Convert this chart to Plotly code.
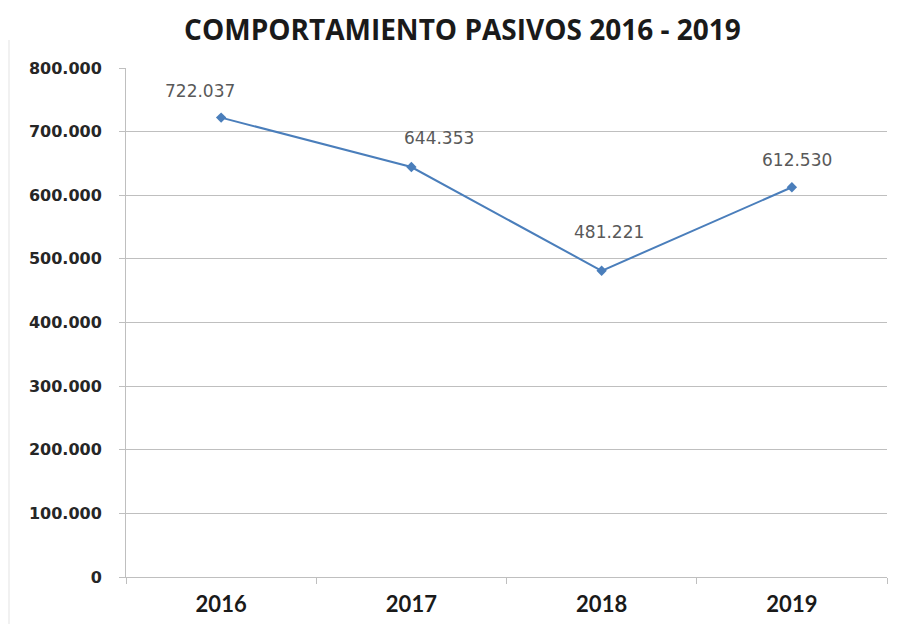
import plotly.graph_objects as go

# Pasivos por año
years = ["2016", "2017", "2018", "2019"]
pasivos = [722037, 644353, 481221, 612530]

# Desplazamiento (px) de cada etiqueta de dato respecto a su punto
label_dx = [-21, 28, 7, 5]
label_dy = [27, 29, 39, 27]

y_ticks = list(range(0, 800001, 100000))

line_color = "#4A7EBB"
grid_color = "#BFBFBF"

fig = go.Figure()
fig.add_trace(go.Scatter(
    x=years,
    y=pasivos,
    mode="lines+markers",
    line=dict(color=line_color, width=2),
    marker=dict(symbol="diamond", size=8, color=line_color),
    hoverinfo="skip",
    showlegend=False,
))


def fmt_es(v):
    return f"{v:,.0f}".replace(",", ".")


# Etiquetas de valor: en un eje de categorías la posición va por índice
for i, (v, dx, dy) in enumerate(zip(pasivos, label_dx, label_dy)):
    fig.add_annotation(
        x=i, y=v, text=fmt_es(v), showarrow=False,
        xshift=dx, yshift=dy,
        font=dict(family="DejaVu Sans", size=17, color="#595959"),
    )

fig.update_layout(
    width=898, height=624,
    margin=dict(l=126, r=11, t=68, b=47),
    paper_bgcolor="white",
    plot_bgcolor="white",
    separators=",.",
    title=dict(
        text="<b>COMPORTAMIENTO PASIVOS 2016 - 2019</b>",
        x=0.515, xanchor="center",
        y=1 - 30 / 624, yanchor="middle",
        font=dict(family="Open Sans", size=28, color="#1A1A1A"),
    ),
    xaxis=dict(
        type="category",
        range=[-0.5, 3.5],
        automargin=False,
        showline=True, linecolor=grid_color, linewidth=1,
        ticks="outside", tickson="boundaries", ticklen=6, tickcolor=grid_color,
        showgrid=False,
        tickfont=dict(family="Lato", size=22, color="#1A1A1A", weight="bold"),
        ticklabelstandoff=8,
    ),
    yaxis=dict(
        range=[0, 800000],
        tickvals=y_ticks,
        tickformat=",.0f",
        automargin=False,
        showgrid=True, gridcolor=grid_color, gridwidth=1,
        zeroline=False,
        showline=True, linecolor=grid_color, linewidth=1,
        ticks="outside", ticklen=6, tickcolor=grid_color,
        tickfont=dict(family="DejaVu Sans", size=16, color="#262626", weight="bold"),
        ticklabelstandoff=14,
    ),
    shapes=[
        dict(type="line", xref="paper", yref="paper",
             x0=(9 - 126) / 761, x1=(9 - 126) / 761,
             y0=(577 - 624) / 509, y1=(577 - 40) / 509,
             line=dict(color="#E3E3E3", width=1)),
    ],
)

fig.write_html("out.html")
